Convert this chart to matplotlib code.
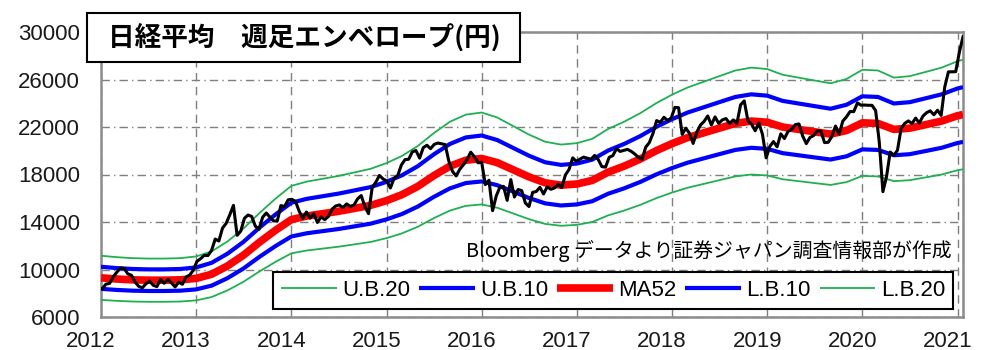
import pandas as pd
import matplotlib
matplotlib.use('Agg')
import matplotlib.pyplot as plt
from matplotlib.patches import Rectangle
from matplotlib.transforms import ScaledTranslation

plt.rcParams['font.family'] = ['Liberation Sans', 'Noto Sans CJK JP', 'DejaVu Sans']

# 週足終値(2週ごと) 2012-01-06 〜 2021-01-22
PRICE_START = '2012-01-06'
PRICE = [
    # 2012
    8390, 8766, 8831, 9384, 9777, 10130, 10083, 9637, 9520, 8953, 8580, 8460, 8798,
    9020, 8670, 8555, 9163, 8840, 9160, 8870, 8534, 8933, 8757, 9366, 9527, 9940,
    # 2013
    10688, 10913, 11191, 11173, 11606, 12560, 12398, 13485, 13884, 14608, 15400, 12877, 13230,
    14310, 14589, 14466, 13650, 13389, 14404, 14760, 14404, 14088, 14086, 15382, 15300, 15870,
    # 2014
    15909, 15734, 14915, 14313, 14841, 14328, 14696, 13960, 14430, 14200, 14462, 15077, 15349,
    15437, 15215, 15524, 15318, 15425, 15948, 16229, 15300, 14700, 16880, 17357, 17920, 17621,
    # 2015
    17450, 16864, 17674, 17913, 18798, 19254, 19286, 19908, 20020, 19380, 20264, 20461, 20174,
    20540, 20650, 20585, 20520, 19136, 18264, 17880, 18438, 18825, 19265, 19880, 19504, 18986,
    # 2016
    19034, 17147, 17518, 14953, 16188, 16939, 17002, 15822, 17572, 16106, 16736, 16642, 15600,
    15300, 16497, 16569, 16920, 16360, 16965, 16754, 16860, 17184, 16905, 17967, 18426, 19401, 19114,
    # 2017
    19287, 19467, 19378, 19283, 19604, 19262, 18664, 18620, 19445, 19590, 20177, 19943, 20033,
    20118, 19959, 19729, 19452, 19274, 20296, 20690, 21457, 22539, 22397, 22819, 22553, 22764,
    # 2018
    23653, 23631, 21383, 21892, 21469, 20617, 21567, 22162, 22472, 22930, 22171, 22851, 22305,
    22597, 22712, 22298, 22601, 22307, 23870, 24200, 22532, 22243, 21680, 22351, 21374, 19400,
    # 2019
    20360, 20774, 20333, 21426, 21025, 21627, 21807, 22200, 22258, 21250, 20601, 21117, 21276,
    21686, 21658, 20685, 20711, 21200, 22079, 21410, 22493, 22851, 23303, 23294, 24023, 23837,
    # 2020
    23850, 23827, 23827, 23387, 20750, 16553, 17820, 19897, 19619, 20037, 21878, 22305, 22512,
    22290, 22751, 22329, 22920, 23205, 23360, 23030, 23410, 22977, 25385, 26644, 26652, 26656,
    # 2021
    28300, 29600,
]

# 52週移動平均(2か月ごと) 2012-01 〜 2021-01
MA_START = '2012-01-01'
MA52 = [
    9300, 9200, 9130, 9100, 9100, 9130,
    9250, 9600, 10300, 11200, 12300, 13300,
    14200, 14500, 14700, 14900, 15150, 15400,
    15800, 16300, 17000, 17900, 18700, 19200,
    19350, 19000, 18400, 17800, 17300, 17100,
    17200, 17500, 18200, 18700, 19300, 20000,
    20600, 21100, 21500, 21900, 22300, 22500,
    22400, 22000, 21800, 21600, 21400, 21700,
    22350, 22300, 21800, 21900, 22200, 22500,
    22950,
]
MA_LAST = 23050

ENVELOPES = [('U.B.20', 20), ('U.B.10', 10), ('MA52', 0), ('L.B.10', -10), ('L.B.20', -20)]
STYLE = {20: ('#1fb050', 1.3), 10: ('#0000ff', 3.0), 0: ('#ff0000', 5.5),
         -10: ('#0000ff', 3.0), -20: ('#1fb050', 1.3)}

YEARS = list(range(2012, 2022))
YTICKS = list(range(6000, 30001, 4000))


def to_year(dates):
    d = pd.DatetimeIndex(dates)
    days = 365 + d.is_leap_year.astype(int)
    return d.year + (d.dayofyear - 1) / days


price_dates = pd.date_range(PRICE_START, periods=len(PRICE), freq='2W-FRI')
ma_dates = list(pd.date_range(MA_START, periods=len(MA52), freq='2MS')) + [price_dates[-1]]
ma_vals = pd.Series(MA52 + [MA_LAST])

px = to_year(price_dates)
mx = to_year(ma_dates)

fig = plt.figure(figsize=(9.89, 3.5), dpi=100)
ax = fig.add_axes([101 / 989, 33 / 350, 862 / 989, 285 / 350])

for label, pct in ENVELOPES:
    color, lw = STYLE[pct]
    ax.plot(mx, ma_vals * (1 + pct / 100), color=color, lw=lw, label=label,
            solid_capstyle='butt', zorder=3)

ax.plot(px, PRICE, color='black', lw=2.2, zorder=4)

ax.set_xlim(2012, px[-1])
ax.set_ylim(6000, 30000)
ax.set_xticks(YEARS)
ax.set_xticklabels([str(y) for y in YEARS])
ax.set_yticks(YTICKS)
ax.set_yticklabels([str(v) for v in YTICKS])
ax.tick_params(length=0, labelsize=16, colors='#1a1a1a')
ax.tick_params(axis='y', pad=15)
ax.tick_params(axis='x', pad=10)

# 年ラベルはグリッド線より少し左寄せ
shift = ScaledTranslation(-10 / 100, 0, fig.dpi_scale_trans)
for lab in ax.get_xticklabels():
    lab.set_transform(lab.get_transform() + shift)

ax.yaxis.grid(True, color='#7f7f7f', lw=1.0, ls=(0, (6, 3, 1, 3)), zorder=0)
ax.xaxis.grid(True, color='#7f7f7f', lw=1.0, ls=(0, (6, 4)), zorder=0)
for s in ax.spines.values():
    s.set_color('#8c8c8c')
    s.set_linewidth(1.8)

leg = ax.legend(loc='lower right', ncol=5, fontsize=16, handlelength=2.5,
                columnspacing=0.4, handletextpad=0.25, borderpad=0.35,
                borderaxespad=0, fancybox=False, framealpha=1, edgecolor='black',
                bbox_to_anchor=(0.9884, 0.028))
leg.get_frame().set_linewidth(1.5)
leg.set_zorder(6)

ax.text(0.987, 0.232, 'Bloomberg データより証券ジャパン調査情報部が作成',
        transform=ax.transAxes, ha='right', va='center', fontsize=14.3,
        family=['Noto Sans CJK JP', 'DejaVu Sans'], zorder=6)

# タイトル枠
fig.patches.append(Rectangle((87 / 989, 1 - 62 / 350), 433 / 989, 49 / 350,
                             transform=fig.transFigure, fc='white', ec='black',
                             lw=1.5, zorder=9))
fig.text(304 / 989, 1 - 37.5 / 350, '日経平均\u3000週足エンベロープ(円)',
         ha='center', va='center', fontsize=19.2, fontweight='bold',
         family=['Noto Sans CJK JP', 'DejaVu Sans'], zorder=10)

fig.savefig('out.png', dpi=100)
